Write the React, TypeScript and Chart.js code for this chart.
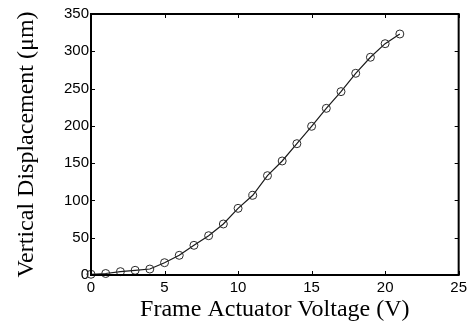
import React, { useEffect, useRef } from "react";
import { Chart, registerables } from "chart.js";

Chart.register(...registerables);

const voltages = [0, 1, 2, 3, 4, 5, 6, 7, 8, 9, 10, 11, 12, 13, 14, 15, 16, 17, 18, 19, 20, 21];
const displacement = [1, 2, 4.5, 6.3, 8, 16.5, 26.4, 39.8, 52.7, 68.4, 89.4, 106.9, 133.2, 152.9, 176.1, 199.4, 223.5, 245.9, 270.5, 292, 310.2, 323.2];
const xTicks = [0, 5, 10, 15, 20, 25];
const yTicks = [0, 50, 100, 150, 200, 250, 300, 350];

const frameAndTicks = {
  id: "frameAndTicks",
  afterDatasetsDraw(chart: any) {
    const { ctx, chartArea, scales } = chart;
    const { left, right, top, bottom } = chartArea;
    ctx.save();
    ctx.strokeStyle = "#000";
    ctx.lineWidth = 1;
    const len = 4;
    ctx.beginPath();
    for (const v of xTicks) {
      const px = Math.round(scales.x.getPixelForValue(v)) + 0.5;
      ctx.moveTo(px, bottom);
      ctx.lineTo(px, bottom - len);
      ctx.moveTo(px, top);
      ctx.lineTo(px, top + len);
    }
    for (const v of yTicks) {
      const py = Math.round(scales.y.getPixelForValue(v)) + 0.5;
      ctx.moveTo(left, py);
      ctx.lineTo(left + len, py);
      ctx.moveTo(right, py);
      ctx.lineTo(right - len, py);
    }
    ctx.stroke();
    ctx.lineWidth = 2;
    ctx.strokeRect(left, top, right - left, bottom - top);
    ctx.restore();
  },
};

export default function App() {
  const ref = useRef<HTMLCanvasElement>(null);
  useEffect(() => {
    document.body.style.margin = "0";
    const canvas = ref.current!;
    const chart = new Chart(canvas, {
      type: "line",
      data: {
        datasets: [
          {
            data: voltages.map((v, i) => ({ x: v, y: displacement[i] })),
            borderColor: "#1a1a1a",
            borderWidth: 1.2,
            pointRadius: 4,
            pointBorderWidth: 1,
            pointBorderColor: "#2a2a2a",
            pointBackgroundColor: "rgba(0,0,0,0)",
            tension: 0,
            fill: false,
            clip: false,
          },
        ],
      },
      options: {
        responsive: false,
        animation: false,
        events: [],
        layout: { padding: { top: 14, right: 8, left: 0, bottom: 0 } },
        plugins: { legend: { display: false }, tooltip: { enabled: false } },
        scales: {
          x: {
            type: "linear",
            min: 0,
            max: 25,
            afterBuildTicks: (s: any) => {
              s.ticks = xTicks.map((v) => ({ value: v }));
            },
            afterFit: (s: any) => {
              s.height = 50;
            },
            grid: { display: false, drawTicks: false },
            border: { display: false },
            ticks: {
              color: "#000",
              padding: 4,
              maxRotation: 0,
              autoSkip: false,
              font: { family: "'Liberation Sans', Arial, sans-serif", size: 15 },
            },
            title: {
              display: true,
              text: "Frame Actuator Voltage (V)",
              color: "#000",
              padding: { top: 0, bottom: 1 },
              font: { family: "'Liberation Serif', 'Times New Roman', serif", size: 24 },
            },
          },
          y: {
            type: "linear",
            min: 0,
            max: 350,
            afterBuildTicks: (s: any) => {
              s.ticks = yTicks.map((v) => ({ value: v }));
            },
            afterFit: (s: any) => {
              s.width = 91;
            },
            grid: { display: false, drawTicks: false },
            border: { display: false },
            ticks: {
              color: "#000",
              padding: 2,
              autoSkip: false,
              font: { family: "'Liberation Sans', Arial, sans-serif", size: 15 },
            },
            title: {
              display: true,
              text: "Vertical Displacement (μm)",
              color: "#000",
              padding: { top: 12, bottom: 0 },
              font: { family: "'Liberation Serif', 'Times New Roman', serif", size: 24 },
            },
          },
        },
      },
      plugins: [frameAndTicks],
    });
    return () => chart.destroy();
  }, []);
  return <canvas ref={ref} width={471} height={325} style={{ display: "block" }} />;
}
